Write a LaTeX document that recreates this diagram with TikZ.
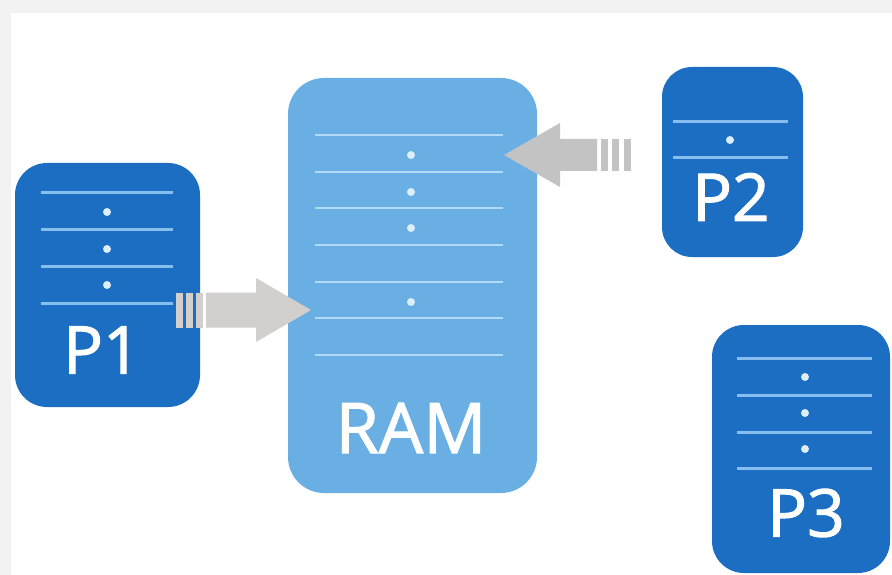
\documentclass[tikz,border=0pt]{standalone}
\usepackage{fontspec}
\setmainfont{Open Sans}
\newfontfamily\labelfont[FakeBold=1.6]{Open Sans}
\definecolor{procblue}{HTML}{1B6EC2}
\definecolor{ramblue}{HTML}{6AAFE3}
\definecolor{procline}{HTML}{86BFEE}
\definecolor{ramline}{HTML}{B3DAF6}
\definecolor{dotcol}{HTML}{DCEEFB}
\definecolor{arrowA}{HTML}{D2CFCC}
\definecolor{arrowB}{HTML}{C3C3C3}
\definecolor{frame}{HTML}{F2F2F2}
\tikzset{
  procbox/.style={fill=procblue, rounded corners=32pt, inner sep=0pt, draw=none},
  rambox/.style={fill=ramblue, rounded corners=36pt, inner sep=0pt, draw=none},
  procrule/.style={draw=procline, line width=3pt},
  ramrule/.style={draw=ramline, line width=2.6pt},
  celldot/.style={fill=dotcol},
  boxlabel/.style={text=white, inner sep=0pt, font=\labelfont\fontsize{66}{66}\selectfont},
}
\begin{document}
\begin{tikzpicture}[x=1pt,y=-1pt]
  % page frame
  \fill[frame] (0,0) rectangle (892,575);
  \fill[white] (11,13) rectangle (892,575);
  \useasboundingbox (0,0) rectangle (892,575);

  % memory blocks
  \node[procbox, minimum width=185pt, minimum height=244pt] (P1) at (107.5,285) {};
  \node[rambox, minimum width=249pt, minimum height=415pt] (RAM) at (412.5,285.5) {};
  \node[procbox, rounded corners=30pt, minimum width=141pt, minimum height=190pt] (P2) at (732.5,162) {};
  \node[procbox, minimum width=178pt, minimum height=248pt] (P3) at (801,449) {};

  % P1 rows
  \foreach \y in {193,229,266,303} \draw[procrule] (41,\y) -- (173,\y);
  \foreach \y in {212,249,285} \fill[celldot] (107,\y) circle (4pt);
  % RAM rows
  \foreach \y in {135,172,208,245,282,318,355} \draw[ramrule] (315,\y) -- (503,\y);
  \foreach \y in {155,192,228,302} \fill[celldot] (411,\y) circle (4pt);
  % P2 rows
  \foreach \y in {122,158} \draw[procrule] (673,\y) -- (788,\y);
  \fill[celldot] (730,140) circle (4pt);
  % P3 rows
  \foreach \y in {358,395,432,468} \draw[procrule] (737,\y) -- (872,\y);
  \foreach \y in {377,413,449} \fill[celldot] (805,\y) circle (4pt);

  % labels
  \node[boxlabel] (L1) at (102,350) {P1};
  \node[boxlabel, font=\labelfont\fontsize{70}{70}\selectfont] (LR) at (411,428) {RAM};
  \node[boxlabel] (L2) at (731,197) {P2};
  \node[boxlabel] (L3) at (806,513) {P3};

  % block arrow P1 -> RAM
  \coordinate (tipA) at (311,310);
  \fill[arrowA] (tipA) -- ++(-55,-32) -- ++(0,14.5) -- ++(-50,0) -- ++(0,35)
    -- ++(50,0) -- ++(0,14.5) -- cycle;
  \foreach \x in {176,186,196} \fill[arrowA] (\x,292.5) rectangle ++(7,35);

  % block arrow P2 -> RAM
  \coordinate (tipB) at (504,155);
  \fill[arrowB] (tipB) -- ++(56,-32) -- ++(0,16) -- ++(37,0) -- ++(0,32)
    -- ++(-37,0) -- ++(0,16) -- cycle;
  \foreach \x in {601,612,624} \fill[arrowB] (\x,139) rectangle ++(7,32);
\end{tikzpicture}
\end{document}
